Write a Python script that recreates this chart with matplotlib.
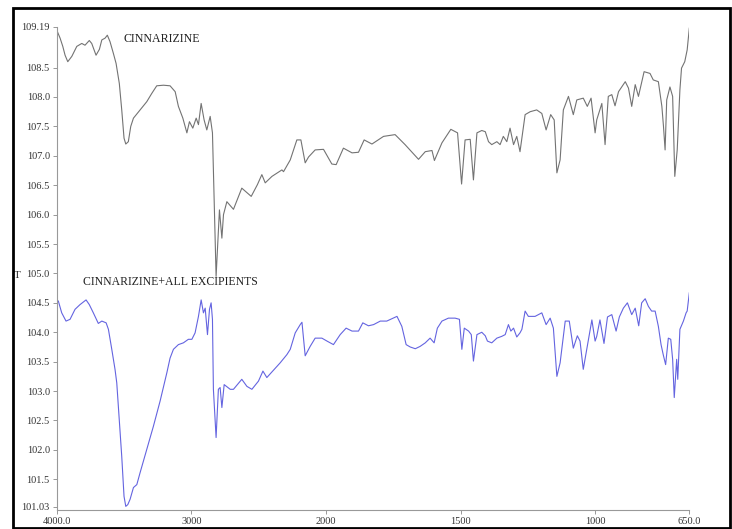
import numpy as np
import matplotlib
matplotlib.use("Agg")
import matplotlib.pyplot as plt
from matplotlib.patches import Rectangle

# ---------------- data ----------------
cinn_wn = [4000, 3995, 3975, 3955, 3938, 3918, 3888, 3851, 3814, 3790, 3758, 3740, 3708, 3683,
           3665, 3641, 3624, 3604, 3579, 3559, 3535, 3517, 3500, 3487, 3468, 3450, 3430, 3381,
           3331, 3294, 3257, 3207, 3158, 3120, 3096, 3063, 3033, 3014, 2989, 2964, 2947, 2927,
           2905, 2885, 2860, 2843, 2830, 2816, 2791, 2773, 2761, 2736, 2687, 2625, 2555, 2509,
           2476, 2451, 2401, 2327, 2315, 2265, 2216, 2186, 2154, 2129, 2080, 2018, 1978, 1962,
           1935, 1903, 1879, 1858, 1829, 1786, 1743, 1706, 1656, 1631, 1606, 1597, 1569, 1536,
           1511, 1496, 1483, 1464, 1452, 1439, 1421, 1408, 1396, 1384, 1365, 1353, 1341, 1328,
           1316, 1303, 1291, 1279, 1260, 1241, 1217, 1198, 1182, 1165, 1152, 1142, 1130, 1118,
           1099, 1081, 1068, 1044, 1029, 1015, 1000, 994, 975, 963, 951, 938, 926, 913, 888, 876,
           864, 851, 839, 818, 796, 784, 765, 752, 746, 740, 734, 722, 712, 704, 695, 685, 679,
           667, 658, 650]
cinn_t = [109.17, 109.11, 109.00, 108.86, 108.71, 108.60, 108.69, 108.86, 108.91, 108.88, 108.96,
          108.91, 108.71, 108.81, 108.97, 109.00, 109.05, 108.94, 108.74, 108.57, 108.23, 107.78,
          107.30, 107.20, 107.24, 107.50, 107.64, 107.78, 107.92, 108.06, 108.19, 108.20, 108.19,
          108.09, 107.84, 107.64, 107.39, 107.58, 107.47, 107.64, 107.53, 107.89, 107.61, 107.44,
          107.67, 107.39, 106.25, 104.95, 106.08, 105.60, 106.00, 106.22, 106.09, 106.45, 106.31,
          106.51, 106.68, 106.54, 106.65, 106.76, 106.73, 106.93, 107.27, 107.27, 106.88, 106.98,
          107.10, 107.11, 106.86, 106.85, 107.13, 107.05, 107.06, 107.27, 107.20, 107.33, 107.36,
          107.19, 106.94, 107.07, 107.09, 106.92, 107.22, 107.45, 107.39, 106.52, 107.27, 107.28,
          106.59, 107.39, 107.43, 107.41, 107.24, 107.19, 107.24, 107.19, 107.33, 107.24, 107.47,
          107.19, 107.33, 107.07, 107.70, 107.75, 107.78, 107.72, 107.44, 107.70, 107.61, 106.71,
          106.93, 107.78, 108.01, 107.70, 107.95, 107.98, 107.84, 107.98, 107.39, 107.61, 107.89,
          107.19, 108.01, 108.04, 107.85, 108.09, 108.26, 108.15, 107.84, 108.21, 108.01, 108.43,
          108.40, 108.29, 108.26, 107.84, 107.50, 107.10, 107.95, 108.17, 108.01, 106.65, 107.10,
          108.12, 108.49, 108.60, 108.80, 109.17]

mix_wn = [4000, 3988, 3963, 3931, 3901, 3864, 3827, 3782, 3758, 3728, 3691, 3665, 3633, 3616,
          3591, 3567, 3554, 3537, 3517, 3500, 3487, 3472, 3455, 3430, 3405, 3381, 3331, 3282,
          3232, 3182, 3158, 3133, 3096, 3059, 3022, 2996, 2972, 2947, 2927, 2910, 2897, 2880,
          2865, 2853, 2843, 2836, 2816, 2799, 2786, 2773, 2756, 2711, 2687, 2625, 2587, 2550,
          2501, 2468, 2439, 2340, 2290, 2265, 2228, 2191, 2178, 2154, 2117, 2080, 2030, 1996,
          1972, 1947, 1925, 1903, 1879, 1863, 1842, 1823, 1798, 1774, 1755, 1736, 1718, 1702,
          1687, 1668, 1650, 1631, 1613, 1598, 1586, 1569, 1545, 1520, 1504, 1495, 1486, 1470,
          1460, 1452, 1439, 1421, 1408, 1400, 1384, 1365, 1347, 1334, 1322, 1313, 1303, 1291,
          1279, 1272, 1260, 1248, 1223, 1198, 1182, 1167, 1155, 1142, 1130, 1111, 1096, 1081,
          1066, 1056, 1044, 1029, 1012, 1000, 994, 982, 967, 954, 938, 922, 910, 895, 880, 864,
          851, 838, 827, 814, 802, 790, 777, 765, 755, 747, 738, 728, 719, 712, 706, 697, 693,
          685, 672, 662, 658, 650]
mix_t = [104.55, 104.53, 104.33, 104.19, 104.22, 104.39, 104.47, 104.55, 104.47, 104.33, 104.15,
         104.19, 104.16, 104.05, 103.71, 103.37, 103.14, 102.57, 101.89, 101.21, 101.04, 101.07,
         101.16, 101.36, 101.41, 101.61, 102.01, 102.40, 102.83, 103.31, 103.56, 103.71, 103.79,
         103.82, 103.88, 103.88, 103.99, 104.27, 104.55, 104.33, 104.41, 103.96, 104.39, 104.50,
         104.22, 103.03, 102.21, 103.03, 103.06, 102.72, 103.11, 103.03, 103.03, 103.20, 103.08,
         103.03, 103.17, 103.34, 103.23, 103.48, 103.62, 103.71, 103.99, 104.13, 104.17, 103.60,
         103.76, 103.90, 103.90, 103.85, 103.79, 103.96, 104.07, 104.02, 104.02, 104.16, 104.11,
         104.13, 104.19, 104.19, 104.23, 104.27, 104.10, 103.79, 103.75, 103.72, 103.76, 103.82,
         103.90, 103.82, 104.07, 104.19, 104.24, 104.24, 104.22, 103.71, 104.07, 104.02, 103.96,
         103.51, 103.96, 104.00, 103.94, 103.85, 103.82, 103.90, 103.93, 103.96, 104.13, 104.02,
         104.07, 103.92, 103.99, 104.05, 104.36, 104.27, 104.27, 104.33, 104.13, 104.24, 104.07,
         103.25, 103.48, 104.19, 104.19, 103.73, 103.94, 103.85, 103.37, 103.76, 104.21, 103.85,
         103.93, 104.21, 103.81, 104.26, 104.30, 104.02, 104.26, 104.41, 104.50, 104.30, 104.41,
         104.11, 104.50, 104.57, 104.44, 104.36, 104.36, 104.10, 103.79, 103.62, 103.45, 103.90,
         103.88, 103.54, 102.89, 103.54, 103.20, 104.05, 104.19, 104.33, 104.36, 104.67]

x_ticks = [4000, 3000, 2000, 1500, 1000, 650]
x_tick_labels = ["4000.0", "3000", "2000", "1500", "1000", "650.0"]
y_ticks = [101.03, 101.5, 102.0, 102.5, 103.0, 103.5, 104.0, 104.5, 105.0, 105.5,
           106.0, 106.5, 107.0, 107.5, 108.0, 108.5, 109.19]
y_tick_labels = ["101.03", "101.5", "102.0", "102.5", "103.0", "103.5", "104.0", "104.5",
                 "105.0", "105.5", "106.0", "106.5", "107.0", "107.5", "108.0", "108.5", "109.19"]
label_top = "CINNARIZINE"
label_bottom = "CINNARIZINE+ALL EXCIPIENTS"
y_label = "T"

# ---------------- plot ----------------
serif = ["Liberation Serif", "DejaVu Serif"]
plt.rcParams["font.family"] = serif

fig = plt.figure(figsize=(7.32, 5.29), dpi=100)
ax = fig.add_axes([0.0775, 0.035, 0.8642, 0.914])


def fwd(x):
    x = np.asarray(x, dtype=float)
    return np.where(x >= 2000, x, 2 * x - 2000)


def inv(y):
    y = np.asarray(y, dtype=float)
    return np.where(y >= 2000, y, (y + 2000) / 2)


ax.set_xscale("function", functions=(fwd, inv))

ax.plot(cinn_wn, cinn_t, color="#737373", lw=0.8)
ax.plot(mix_wn, mix_t, color="#6464e0", lw=0.8)

ax.set_xlim(4000, 650)
ax.set_ylim(100.97, 109.19)

ax.set_xticks(x_ticks)
ax.set_xticklabels(x_tick_labels)
ax.set_yticks(y_ticks)
ax.set_yticklabels(y_tick_labels)
ax.minorticks_off()
ax.tick_params(axis="both", labelsize=7.5, colors="#333333", length=3, width=0.6, pad=2)
ax.tick_params(axis="both", color="#888888")

for s in ["top", "right"]:
    ax.spines[s].set_visible(False)
for s in ["left", "bottom"]:
    ax.spines[s].set_color("#999999")
    ax.spines[s].set_linewidth(0.8)

fig.text(123 / 732, 1 - 39.5 / 529, label_top, fontsize=8.6, va="center", ha="left",
         color="#222222")
fig.text(83 / 732, 1 - 281.7 / 529, label_bottom, fontsize=8.5, va="center", ha="left",
         color="#222222")
fig.text(14 / 732, 1 - 275 / 529, y_label, fontsize=8, va="center", ha="left", color="#222222")

fig.patches.append(Rectangle((13 / 732, 1 - 527.5 / 529), (730 - 13) / 732, (527.5 - 8) / 529,
                             transform=fig.transFigure, fill=False, edgecolor="black",
                             linewidth=2.0, zorder=10))

fig.savefig("out.png", dpi=100)
